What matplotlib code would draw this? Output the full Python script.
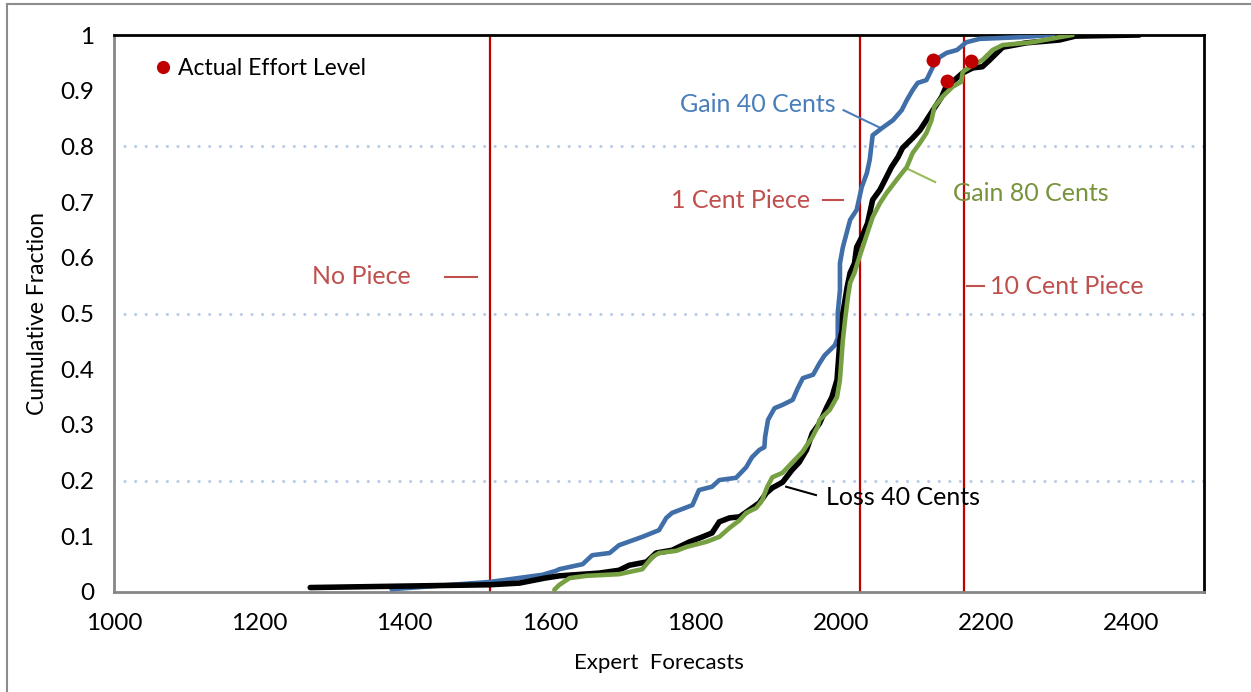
import matplotlib
matplotlib.use("Agg")
import matplotlib.pyplot as plt
from matplotlib.lines import Line2D

plt.rcParams['font.family'] = ['Lato', 'DejaVu Sans']

# cumulative distributions of expert forecasts
gain40_x = [1382, 1517, 1590, 1608, 1613, 1645, 1658, 1682, 1695, 1727, 1750, 1760, 1768,
            1796, 1805, 1823, 1833, 1856, 1870, 1878, 1888, 1895, 1896, 1900, 1909, 1920,
            1934, 1941, 1948, 1962, 1971, 1978, 1992, 1996, 1996, 1999, 1999, 2003, 2013,
            2022, 2029, 2036, 2040, 2044, 2057, 2072, 2084, 2091, 2099, 2106, 2118, 2127,
            2136, 2146, 2160, 2173, 2191, 2246, 2292]
gain40_y = [0.005, 0.018, 0.031, 0.038, 0.041, 0.050, 0.066, 0.070, 0.084, 0.099, 0.111,
            0.133, 0.142, 0.156, 0.183, 0.189, 0.201, 0.205, 0.224, 0.242, 0.255, 0.260,
            0.278, 0.309, 0.330, 0.336, 0.345, 0.366, 0.384, 0.390, 0.411, 0.425, 0.443,
            0.456, 0.501, 0.542, 0.590, 0.619, 0.668, 0.686, 0.727, 0.752, 0.776, 0.820,
            0.833, 0.847, 0.865, 0.883, 0.901, 0.914, 0.919, 0.943, 0.960, 0.968, 0.973,
            0.987, 0.993, 0.996, 1.0]

loss40_x = [1270, 1517, 1558, 1593, 1613, 1668, 1695, 1709, 1733, 1746, 1768, 1792, 1810,
            1823, 1833, 1847, 1861, 1874, 1888, 1898, 1906, 1920, 1933, 1943, 1953, 1961,
            1971, 1981, 1988, 1995, 1999, 2002, 2003, 2006, 2009, 2013, 2019, 2022, 2029,
            2037, 2044, 2054, 2063, 2070, 2079, 2085, 2099, 2109, 2118, 2127, 2139, 2146,
            2154, 2168, 2182, 2195, 2205, 2215, 2223, 2256, 2301, 2323, 2411]
loss40_y = [0.008, 0.013, 0.016, 0.025, 0.029, 0.034, 0.039, 0.048, 0.054, 0.070, 0.075,
            0.090, 0.099, 0.106, 0.126, 0.133, 0.135, 0.147, 0.160, 0.178, 0.187, 0.197,
            0.219, 0.233, 0.255, 0.285, 0.303, 0.332, 0.350, 0.381, 0.452, 0.470, 0.501,
            0.524, 0.548, 0.573, 0.590, 0.619, 0.637, 0.662, 0.704, 0.722, 0.745, 0.763,
            0.781, 0.797, 0.815, 0.829, 0.847, 0.865, 0.889, 0.910, 0.916, 0.932, 0.941,
            0.943, 0.955, 0.968, 0.978, 0.986, 0.991, 0.998, 1.0]

gain80_x = [1606, 1613, 1627, 1650, 1695, 1727, 1741, 1750, 1774, 1788, 1815, 1833, 1847,
            1861, 1870, 1884, 1892, 1899, 1906, 1920, 1933, 1947, 1961, 1968, 1971, 1985,
            1995, 1999, 2003, 2006, 2010, 2013, 2019, 2023, 2029, 2044, 2054, 2063, 2077,
            2091, 2099, 2109, 2118, 2125, 2129, 2140, 2154, 2166, 2168, 2182, 2195, 2209,
            2223, 2264, 2301, 2319]
gain80_y = [0.004, 0.013, 0.025, 0.029, 0.032, 0.041, 0.063, 0.070, 0.074, 0.081, 0.090,
            0.099, 0.115, 0.129, 0.142, 0.151, 0.165, 0.189, 0.206, 0.214, 0.232, 0.251,
            0.278, 0.296, 0.309, 0.327, 0.350, 0.381, 0.452, 0.488, 0.530, 0.555, 0.573,
            0.590, 0.614, 0.673, 0.698, 0.716, 0.740, 0.763, 0.788, 0.806, 0.824, 0.847,
            0.871, 0.889, 0.907, 0.916, 0.934, 0.946, 0.955, 0.973, 0.982, 0.987, 0.996, 1.0]

# actual effort levels
piece_names = ['No Piece', '1 Cent Piece', '10 Cent Piece']
piece_effort = [1518, 2026, 2170]
actual_x = [2127, 2146, 2180]
actual_y = [0.955, 0.917, 0.953]

BLUE = '#3F6EA8'
GREEN = '#77A043'
RED = '#C00000'
RED_TXT = '#C0504D'

fig = plt.figure(figsize=(12.51, 6.92), dpi=100)
ax = fig.add_axes([114 / 1251, 1 - 592 / 692, 1090 / 1251, 557 / 692])

for g in [0.2, 0.5, 0.8]:
    ax.axhline(g, color='#B9CDE5', lw=2.3, linestyle=(0, (0.01, 3.3)),
               dash_capstyle='round', zorder=1)

for v in piece_effort:
    ax.axvline(v, color=RED, lw=1.6, zorder=2)

ax.plot(gain40_x, gain40_y, color=BLUE, lw=3.3, solid_joinstyle='round',
        solid_capstyle='round', zorder=3)
ax.plot(loss40_x, loss40_y, color='black', lw=4.0, solid_joinstyle='round',
        solid_capstyle='round', zorder=4)
ax.plot(gain80_x, gain80_y, color=GREEN, lw=3.3, solid_joinstyle='round',
        solid_capstyle='round', zorder=5)
ax.scatter(actual_x, actual_y, s=100, color=RED, zorder=6, linewidths=0)

# legend entry
ax.scatter([1067], [0.943], s=90, color=RED, zorder=6, linewidths=0, clip_on=False)
ax.text(1088, 0.940, 'Actual Effort Level', fontsize=16.5, va='center', ha='left')

fs = 18
ax.text(1886, 0.876, 'Gain 40 Cents', color='#4A7EBB', fontsize=fs, ha='center', va='center')
ax.plot([2004, 2055], [0.865, 0.833], color='#4A7EBB', lw=1.5)
ax.text(2154, 0.715, 'Gain 80 Cents', color='#77933C', fontsize=fs, ha='left', va='center')
ax.plot([2090, 2130], [0.761, 0.736], color='#9BBB59', lw=1.5)
ax.text(1980, 0.169, 'Loss 40 Cents', color='black', fontsize=fs, ha='left', va='center')
ax.plot([1925, 1966], [0.189, 0.174], color='black', lw=1.5)

ax.text(1341, 0.566, piece_names[0], color=RED_TXT, fontsize=fs, ha='center', va='center')
ax.plot([1455, 1500], [0.566, 0.566], color=RED_TXT, lw=1.5)
ax.text(1862, 0.702, piece_names[1], color=RED_TXT, fontsize=fs, ha='center', va='center')
ax.plot([1976, 2003], [0.704, 0.704], color=RED_TXT, lw=1.5)
ax.text(2206, 0.548, piece_names[2], color=RED_TXT, fontsize=fs, ha='left', va='center')
ax.plot([2174, 2197], [0.55, 0.55], color=RED_TXT, lw=1.5)

ax.set_xlim(1000, 2500)
ax.set_ylim(0, 1)
ax.set_xticks(range(1000, 2401, 200))
ax.set_yticks([i / 10 for i in range(11)])
ax.set_yticklabels(['0'] + ['0.%d' % i for i in range(1, 10)] + ['1'])
ax.tick_params(axis='both', length=0, labelsize=17.5)
ax.tick_params(axis='y', pad=14)
ax.tick_params(axis='x', pad=15)

for side in ['left', 'bottom']:
    ax.spines[side].set_color('#868686')
    ax.spines[side].set_linewidth(2)
for side in ['top', 'right']:
    ax.spines[side].set_color('black')
    ax.spines[side].set_linewidth(2)

ax.set_xlabel('Expert  Forecasts', fontsize=16, labelpad=14)
ax.set_ylabel('Cumulative Fraction', fontsize=16.5, labelpad=9)

# outer chart border
fig.add_artist(Line2D([7 / 1251, 7 / 1251], [0, 1 - 4 / 692], transform=fig.transFigure,
                      color='#8C8C8C', lw=1.5))
fig.add_artist(Line2D([7 / 1251, 1], [1 - 4 / 692, 1 - 4 / 692], transform=fig.transFigure,
                      color='#8C8C8C', lw=1.5))

fig.savefig('out.png', dpi=100)
